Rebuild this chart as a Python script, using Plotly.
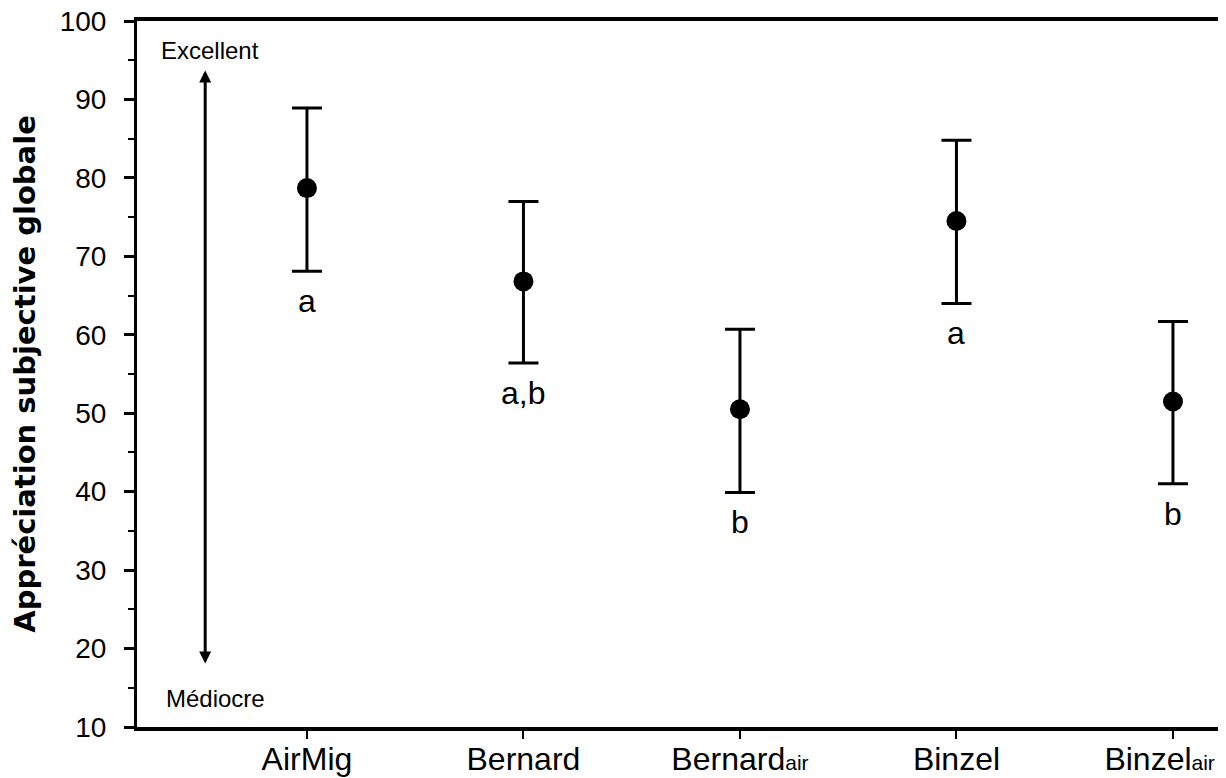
import plotly.graph_objects as go

categories = ["AirMig", "Bernard", "Bernardair", "Binzel", "Binzelair"]
tick_labels = ["AirMig", "Bernard",
               "Bernard<span style='font-size:21px'>air</span>",
               "Binzel",
               "Binzel<span style='font-size:21px'>air</span>&nbsp;&nbsp;&nbsp;"]
means = [78.7, 66.8, 50.5, 74.5, 51.5]
upper = [88.9, 77.0, 60.7, 84.8, 61.7]
lower = [68.1, 56.4, 39.9, 64.0, 41.0]
groups = ["a", "a,b", "b", "a", "b"]

FONT = "Liberation Sans, Arial, Helvetica, sans-serif"
TITLE_FONT = "DejaVu Sans, Liberation Sans, Arial, sans-serif"

err_plus = [u - m for u, m in zip(upper, means)]
err_minus = [m - l for m, l in zip(means, lower)]

fig = go.Figure()
fig.add_trace(go.Scatter(
    x=categories, y=means, mode="markers",
    marker=dict(color="black", size=20),
    error_y=dict(type="data", symmetric=False, array=err_plus, arrayminus=err_minus,
                 color="black", thickness=3, width=15),
    showlegend=False,
))

annotations = []
for c, l, g in zip(categories, lower, groups):
    annotations.append(dict(x=c, y=l, xref="x", yref="y", text=g, showarrow=False,
                            yanchor="top", yshift=-10,
                            font=dict(family=FONT, size=32, color="black")))

# double arrow Excellent / Médiocre
annotations.append(dict(x=-0.47, y=93.7, ax=-0.47, ay=17.9, xref="x", yref="y",
                        axref="x", ayref="y", text="", showarrow=True,
                        arrowhead=2, arrowside="end+start", arrowwidth=3,
                        arrowsize=0.8, arrowcolor="black"))
annotations.append(dict(x=-0.685, y=96.2, xref="x", yref="y", text="Excellent",
                        showarrow=False, xanchor="left",
                        font=dict(family=FONT, size=24, color="black")))
annotations.append(dict(x=-0.66, y=13.6, xref="x", yref="y", text="Médiocre",
                        showarrow=False, xanchor="left",
                        font=dict(family=FONT, size=24, color="black")))

# the page body has an 8px default margin; size the figure to fill the window
fig.update_layout(
    width=1218, height=770,
    margin=dict(l=129, r=0, t=13, b=51),
    plot_bgcolor="white", paper_bgcolor="white",
    font=dict(family=FONT, size=28, color="black"),
    annotations=annotations,
    xaxis=dict(
        type="category", range=[-0.785, 4.245], automargin=False,
        tickmode="array", tickvals=categories, ticktext=tick_labels,
        showline=True, linecolor="black", linewidth=4, mirror=True,
        ticks="outside", ticklen=8, tickwidth=2, tickcolor="black",
        showgrid=False, zeroline=False,
        ticklabelstandoff=-7, ticklabeloverflow="allow",
        tickfont=dict(family=FONT, size=32, color="black"),
    ),
    yaxis=dict(
        range=[10, 100], tickmode="linear", tick0=10, dtick=10, automargin=False,
        showline=True, linecolor="black", linewidth=3,
        ticks="outside", ticklen=10, tickwidth=3, tickcolor="black",
        minor=dict(dtick=5, tick0=5, ticks="outside", ticklen=6, tickwidth=2,
                   tickcolor="black", showgrid=False),
        showgrid=False, zeroline=False,
        ticklabelstandoff=12, ticklabeloverflow="allow",
        tickfont=dict(family=FONT, size=28, color="black"),
        title=dict(text="<b>Appréciation subjective globale</b>", standoff=30,
                   font=dict(family=TITLE_FONT, size=29, color="black")),
    ),
)

fig.write_html("out.html")
